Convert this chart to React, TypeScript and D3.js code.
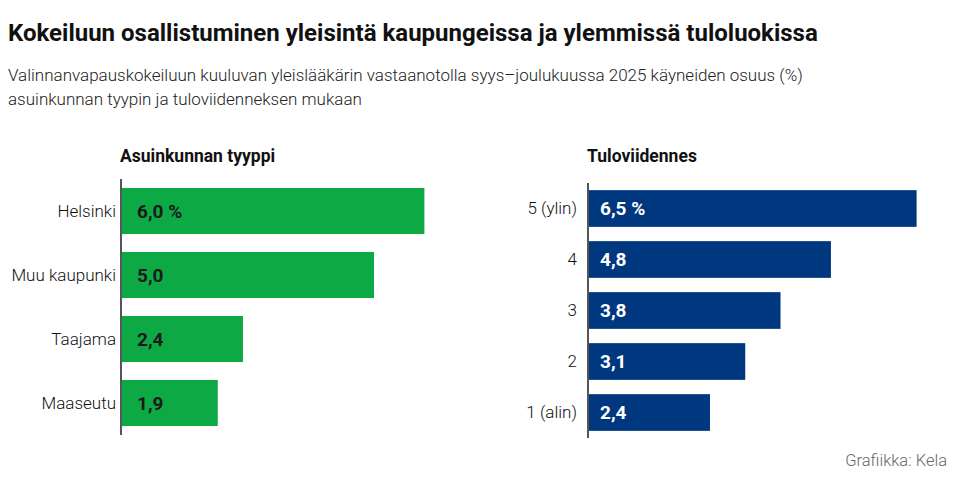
import { useEffect, useRef } from 'react';
import * as d3 from 'd3';

const title = 'Kokeiluun osallistuminen yleisintä kaupungeissa ja ylemmissä tuloluokissa';
const subtitleLines = [
  'Valinnanvapauskokeiluun kuuluvan yleislääkärin vastaanotolla syys–joulukuussa 2025 käyneiden osuus (%)',
  'asuinkunnan tyypin ja tuloviidenneksen mukaan',
];
const source = 'Grafiikka: Kela';

const areaTitle = 'Asuinkunnan tyyppi';
const areaCategories = ['Helsinki', 'Muu kaupunki', 'Taajama', 'Maaseutu'];
const areaValues = [6.0, 5.0, 2.4, 1.9];

const incomeTitle = 'Tuloviidennes';
const incomeCategories = ['5 (ylin)', '4', '3', '2', '1 (alin)'];
const incomeValues = [6.5, 4.8, 3.8, 3.1, 2.4];

const FONT = 'Roboto, "Noto Sans", sans-serif';

const fmt = (v: number, i: number) =>
  v.toFixed(1).replace('.', ',') + (i === 0 ? ' %' : '');

const App = () => {
  const svgRef = useRef<SVGSVGElement>(null);

  useEffect(() => {
    if (!svgRef.current) return;
    const svg = d3.select(svgRef.current);
    svg.selectAll('*').remove();

    // Headings
    svg
      .append('text')
      .attr('x', 8)
      .attr('y', 41)
      .attr('font-family', FONT)
      .attr('font-weight', 700)
      .attr('font-size', 24)
      .attr('fill', '#111')
      .text(title);

    subtitleLines.forEach((line, i) => {
      svg
        .append('text')
        .attr('x', 8)
        .attr('y', 81 + i * 24)
        .attr('font-family', FONT)
        .attr('font-weight', 300)
        .attr('font-size', 17)
        .attr('fill', '#222')
        .text(line);
    });

    const drawPanel = (
      heading: string,
      cats: string[],
      vals: number[],
      axisX: number,
      yTop: number,
      yBottom: number,
      fill: string,
      labelColor: string,
      labelOffset: number,
      catGap: number
    ) => {
      const g = svg.append('g');
      const x = d3.scaleLinear().domain([0, 1]).range([axisX + 1, axisX + 1 + 50.4]);
      const y = d3
        .scaleBand<string>()
        .domain(cats)
        .range([yTop, yBottom])
        .paddingInner(0.28)
        .paddingOuter(0.14);

      g.append('text')
        .attr('x', axisX - 1)
        .attr('y', 162)
        .attr('font-family', FONT)
        .attr('font-weight', 700)
        .attr('font-size', 17.5)
        .attr('fill', '#111')
        .text(heading);

      g.selectAll('rect')
        .data(vals)
        .enter()
        .append('rect')
        .attr('x', x(0))
        .attr('y', (_, i) => y(cats[i]) as number)
        .attr('width', d => x(d) - x(0))
        .attr('height', y.bandwidth())
        .attr('fill', fill);

      g.selectAll('.cat')
        .data(cats)
        .enter()
        .append('text')
        .attr('class', 'cat')
        .attr('x', axisX - catGap)
        .attr('y', d => (y(d) as number) + y.bandwidth() / 2)
        .attr('dy', '0.35em')
        .attr('text-anchor', 'end')
        .attr('font-family', FONT)
        .attr('font-weight', 300)
        .attr('font-size', 17)
        .attr('fill', '#111')
        .text(d => d);

      g.selectAll('.val')
        .data(vals)
        .enter()
        .append('text')
        .attr('class', 'val')
        .attr('x', x(0) + labelOffset)
        .attr('y', (_, i) => (y(cats[i]) as number) + y.bandwidth() / 2)
        .attr('dy', '0.35em')
        .attr('font-family', FONT)
        .attr('font-weight', 700)
        .attr('font-size', 19)
        .attr('fill', labelColor)
        .text((d, i) => fmt(d, i));

      g.append('line')
        .attr('x1', axisX)
        .attr('x2', axisX)
        .attr('y1', yTop)
        .attr('y2', yBottom)
        .attr('stroke', '#555')
        .attr('stroke-width', 2);
    };

    drawPanel(areaTitle, areaCategories, areaValues, 121, 179, 435, '#0da944', '#1a1a1a', 15, 5);
    drawPanel(incomeTitle, incomeCategories, incomeValues, 588, 183, 438, '#00387f', '#ffffff', 11, 11);

    svg
      .append('text')
      .attr('x', 947)
      .attr('y', 466)
      .attr('text-anchor', 'end')
      .attr('font-family', FONT)
      .attr('font-weight', 300)
      .attr('font-size', 16.5)
      .attr('fill', '#666')
      .text(source);
  }, []);

  return (
    <svg
      ref={svgRef}
      width={960}
      height={489}
      viewBox="0 0 960 489"
      style={{ position: 'absolute', left: 0, top: 0, background: '#fff' }}
    />
  );
};

export default App;
